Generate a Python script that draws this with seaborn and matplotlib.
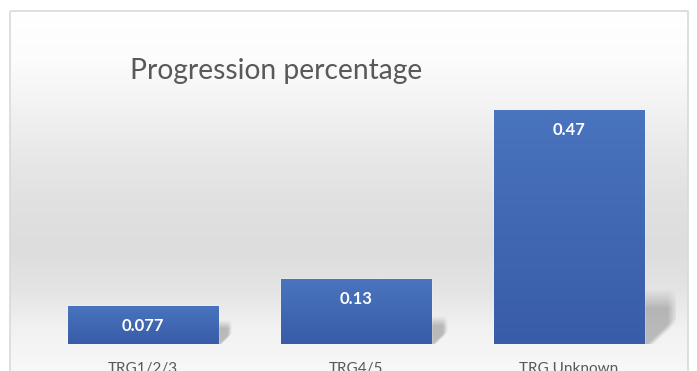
import numpy as np
import matplotlib
matplotlib.use("Agg")
import matplotlib.pyplot as plt
import seaborn as sns
from matplotlib.patches import Rectangle

# Data
categories = ["TRG1/2/3", "TRG4/5", "TRG Unknown"]
values = [0.077, 0.13, 0.47]
title = "Progression percentage"

sns.set_theme(style="white")
plt.rcParams["font.family"] = ["Lato", "DejaVu Sans"]

W_PX, H_PX = 697, 371
fig = plt.figure(figsize=(W_PX / 100, H_PX / 100), dpi=100)
fig.patch.set_facecolor("white")

# ---- background panel with soft vertical gradient ----
bg = fig.add_axes([0, 0, 1, 1], zorder=0)
bg.set_xlim(0, W_PX)
bg.set_ylim(H_PX, 0)
bg.axis("off")
stops_y = [11, 60, 100, 150, 200, 250, 290, 330, 371]
stops_v = [255, 252, 244, 233, 225, 221, 228, 242, 248]
ys = np.arange(11, 372)
levels = np.interp(ys, stops_y, stops_v) / 255.0
grad = np.repeat(levels[:, None], 2, axis=1)
bg.imshow(np.dstack([grad, grad, grad * 1.003]).clip(0, 1),
          extent=[10, 688, 371, 11], aspect="auto", interpolation="bicubic", zorder=0)
bg.add_patch(Rectangle((10, 11), 678, 372, fill=False, edgecolor="#d9d9d9", lw=1.2, zorder=1))
bg.set_xlim(0, W_PX)
bg.set_ylim(H_PX, 0)

# ---- bar axes ----
x_unit = 213.0      # px per category
y_unit = 498.0      # px per value unit
ymax = 0.5
left_px, base_px = 36.5, 344
ax = fig.add_axes([left_px / W_PX, (H_PX - base_px) / H_PX,
                   3 * x_unit / W_PX, ymax * y_unit / H_PX], zorder=2)
ax.patch.set_alpha(0)

sns.barplot(x=categories, y=values, color="#4168b4", saturation=1,
            width=0.705, ax=ax, zorder=3)
ax.set_xlim(-0.5, 2.5)
ax.set_ylim(0, ymax)

# gradient fill and soft drop shadow for each bar
top_c = np.array([0x49, 0x74, 0xbe]) / 255
bot_c = np.array([0x39, 0x5c, 0xa8]) / 255
t = np.linspace(0, 1, 64)[:, None]
bar_grad = (top_c * (1 - t) + bot_c * t)[:, None, :].repeat(2, axis=1)

for p in list(ax.patches):
    x0, w, h = p.get_x(), p.get_width(), p.get_height()
    im = ax.imshow(bar_grad, extent=[x0, x0 + w, 0, h], aspect="auto",
                   interpolation="bilinear", zorder=3.5)
    im.set_clip_path(p)

    # shadow box to the lower right, size tied to the bar height
    hpx = h * y_unit
    Wsh = 10 + 0.1 * hpx
    Hsh = 17 + 0.16 * hpx
    nx, ny = 90, 90
    dx = np.linspace(0, Wsh, nx)[None, :]
    dy = np.linspace(Hsh, 0, ny)[:, None]
    right = np.clip((Wsh - dx) / (0.3 * Wsh), 0, 1)
    top = np.clip((Hsh - dy) / (0.35 * Hsh), 0, 1)
    cut = (dx - 0.3 * Wsh) / (0.7 * Wsh) * 0.4 * Hsh
    diag = np.clip((dy - cut) / (0.12 * Hsh), 0, 1)
    a = 0.42 * right * top * diag
    rgba = np.zeros((ny, nx, 4))
    rgba[..., :3] = 0.42
    rgba[..., 3] = a
    ax.imshow(rgba, extent=[x0 + w, x0 + w + Wsh / x_unit, 0, Hsh / y_unit],
              aspect="auto", interpolation="bilinear", zorder=2.5)

    ax.annotate(f"{h:g}", (x0 + w / 2, h), xytext=(0, -14.4),
                textcoords="offset points", ha="center", va="center",
                color="white", fontsize=12, fontweight="bold", zorder=5)

ax.set_xlim(-0.5, 2.5)
ax.set_ylim(0, ymax)
sns.despine(ax=ax, left=True, bottom=True)
ax.set_yticks([])
ax.set_xlabel("")
ax.set_ylabel("")
ax.tick_params(axis="x", length=0, pad=13, labelsize=11, labelcolor="#595959")

fig.text(130 / W_PX, (H_PX - 79) / H_PX, title, ha="left", va="baseline",
         fontsize=20.3, color="#595959")

fig.savefig("out.png", dpi=100)
